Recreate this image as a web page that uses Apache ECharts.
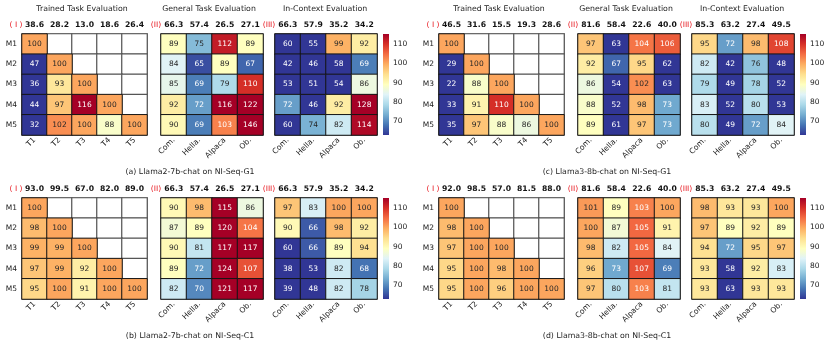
<!DOCTYPE html>
<html>
<head>
<meta charset="utf-8">
<script src="https://cdn.jsdelivr.net/npm/echarts@6/dist/echarts.min.js"></script>
<style>
  html, body { margin: 0; padding: 0; background: #fff; }
  #main { width: 830px; height: 348px; }
</style>
</head>
<body>
<div id="main"></div>
<script>
// axis categories
var models = ['M1', 'M2', 'M3', 'M4', 'M5'];
var trainedTasks = ['T1', 'T2', 'T3', 'T4', 'T5'];
var evalTasks = ['Com.', 'Hella.', 'Alpaca', 'Ob.'];
var cbTicks = [70, 80, 90, 100, 110];

// (a) Llama2-7b-chat on NI-Seq-G1
var aTrainedTop = ['38.6', '28.2', '13.0', '18.6', '26.4'];
var aTrained = [[100], [47, 100], [36, 93, 100], [44, 97, 116, 100], [32, 102, 100, 88, 100]];
var aGeneralTop = ['66.3', '57.4', '26.5', '27.1'];
var aGeneral = [[89, 75, 112, 89], [84, 65, 89, 67], [85, 69, 79, 110], [92, 72, 116, 122], [90, 69, 103, 146]];
var aContextTop = ['66.3', '57.9', '35.2', '34.2'];
var aContext = [[60, 55, 99, 92], [42, 46, 58, 69], [53, 51, 54, 86], [72, 46, 92, 128], [60, 74, 82, 114]];

// (b) Llama2-7b-chat on NI-Seq-C1
var bTrainedTop = ['93.0', '99.5', '67.0', '82.0', '89.0'];
var bTrained = [[100], [98, 100], [99, 99, 100], [97, 99, 92, 100], [95, 100, 91, 100, 100]];
var bGeneralTop = ['66.3', '57.4', '26.5', '27.1'];
var bGeneral = [[90, 98, 115, 86], [87, 89, 120, 104], [90, 81, 117, 117], [89, 72, 124, 107], [82, 70, 121, 117]];
var bContextTop = ['66.3', '57.9', '35.2', '34.2'];
var bContext = [[97, 83, 100, 100], [90, 66, 98, 92], [60, 66, 89, 94], [38, 53, 82, 68], [39, 48, 82, 78]];

// (c) Llama3-8b-chat on NI-Seq-G1
var cTrainedTop = ['46.5', '31.6', '15.5', '19.3', '28.6'];
var cTrained = [[100], [29, 100], [22, 88, 100], [33, 91, 110, 100], [35, 97, 88, 86, 100]];
var cGeneralTop = ['81.6', '58.4', '22.6', '40.0'];
var cGeneral = [[97, 63, 104, 106], [92, 67, 95, 62], [86, 54, 102, 63], [88, 52, 98, 73], [89, 61, 97, 73]];
var cContextTop = ['85.3', '63.2', '27.4', '49.5'];
var cContext = [[95, 72, 98, 108], [82, 42, 76, 48], [79, 49, 78, 52], [83, 52, 80, 53], [80, 49, 72, 84]];

// (d) Llama3-8b-chat on NI-Seq-C1
var dTrainedTop = ['92.0', '98.5', '57.0', '81.5', '88.0'];
var dTrained = [[100], [98, 100], [97, 100, 100], [95, 100, 98, 100], [95, 100, 96, 100, 100]];
var dGeneralTop = ['81.6', '58.4', '22.6', '40.0'];
var dGeneral = [[101, 89, 103, 100], [100, 87, 105, 91], [98, 82, 105, 84], [96, 73, 107, 69], [97, 80, 103, 81]];
var dContextTop = ['85.3', '63.2', '27.4', '49.5'];
var dContext = [[98, 93, 93, 100], [97, 89, 92, 89], [94, 72, 95, 97], [93, 58, 92, 83], [93, 63, 93, 93]];

var panels = [
    {ox: 0, oy: 0, caption: '(a) Llama2-7b-chat on NI-Seq-G1', titles: true,
     mats: [[aTrained, aTrainedTop], [aGeneral, aGeneralTop], [aContext, aContextTop]]},
    {ox: 417, oy: 0, caption: '(c) Llama3-8b-chat on NI-Seq-G1', titles: true,
     mats: [[cTrained, cTrainedTop], [cGeneral, cGeneralTop], [cContext, cContextTop]]},
    {ox: 0, oy: 164, caption: '(b) Llama2-7b-chat on NI-Seq-C1', titles: false,
     mats: [[bTrained, bTrainedTop], [bGeneral, bGeneralTop], [bContext, bContextTop]]},
    {ox: 417, oy: 164, caption: '(d) Llama3-8b-chat on NI-Seq-C1', titles: false,
     mats: [[dTrained, dTrainedTop], [dGeneral, dGeneralTop], [dContext, dContextTop]]}
];

// RdYlBu_r
var cmap = ['#313695', '#4575b4', '#74add1', '#abd9e9', '#e0f3f8', '#ffffbf',
            '#fee090', '#fdae61', '#f46d43', '#d73027', '#a50026'];
var vMin = 63, vMax = 115;
var FONT = 'DejaVu Sans';

function clamp(v) { return Math.max(vMin, Math.min(vMax, v)); }
function hexRgb(h) { return [1, 3, 5].map(function (i) { return parseInt(h.substr(i, 2), 16) / 255; }); }
function textColorFor(v) {
    var t = (clamp(v) - vMin) / (vMax - vMin) * (cmap.length - 1);
    var i = Math.min(Math.floor(t), cmap.length - 2), f = t - i;
    var c0 = hexRgb(cmap[i]), c1 = hexRgb(cmap[i + 1]);
    var rgb = c0.map(function (x, k) { return x + (c1[k] - x) * f; });
    var lin = rgb.map(function (x) { return x <= 0.03928 ? x / 12.92 : Math.pow((x + 0.055) / 1.055, 2.4); });
    var lum = 0.2126 * lin[0] + 0.7152 * lin[1] + 0.0722 * lin[2];
    return lum > 0.395 ? '#262626' : '#ffffff';
}

var grids = [], xAxes = [], yAxes = [], series = [], graphics = [], valueSeries = [];
var matLeft = [22, 161, 275], matWidth = [125, 102, 102];
var GTOP = 34, GH = 101;
var sectionTitles = ['Trained Task Evaluation', 'General Task Evaluation', 'In-Context Evaluation'];
var titleX = [82, 209, 325];
var romans = ['( I )', '(II)', '(III)'];
var romanX = [16, 156, 269];

function txt(x, y, s, font, color, align) {
    graphics.push({type: 'text', x: x, y: y, silent: true,
        style: {text: s, font: font, fill: color || '#222', align: align || 'center', verticalAlign: 'middle'}});
}

panels.forEach(function (p) {
    p.mats.forEach(function (m, mi) {
        var mat = m[0], tops = m[1];
        var cats = mi === 0 ? trainedTasks : evalTasks;
        var g = grids.length;
        grids.push({left: p.ox + matLeft[mi], top: p.oy + GTOP, width: matWidth[mi], height: GH,
            show: true, borderColor: '#6a6a6a', borderWidth: 1.5, backgroundColor: '#fff'});
        xAxes.push({type: 'category', gridIndex: g, data: cats, position: 'bottom',
            axisLine: {show: false}, splitLine: {show: false},
            axisTick: {alignWithLabel: true, length: 3, lineStyle: {color: '#333'}},
            axisLabel: {interval: 0, rotate: 45, fontSize: 7.6, color: '#222', margin: 4, fontFamily: FONT}});
        xAxes.push({type: 'category', gridIndex: g, data: tops, position: 'top',
            axisLine: {show: false}, splitLine: {show: false},
            axisTick: {alignWithLabel: true, length: 3, lineStyle: {color: '#333'}},
            axisLabel: {interval: 0, fontSize: 7.7, fontWeight: 'bold', color: '#111', margin: 5, fontFamily: FONT}});
        yAxes.push({type: 'category', gridIndex: g, data: models, inverse: true,
            axisLine: {show: false}, splitLine: {show: false},
            axisTick: {alignWithLabel: true, length: 3, lineStyle: {color: '#333'}},
            axisLabel: {show: mi === 0, interval: 0, fontSize: 7.5, color: '#222', margin: 5, fontFamily: FONT}});

        var vals = [], empty = [];
        mat.forEach(function (row, r) {
            cats.forEach(function (c, ci) {
                if (ci < row.length) {
                    vals.push({value: [ci, r, clamp(row[ci])], raw: row[ci],
                        label: {color: textColorFor(row[ci])}});
                } else {
                    empty.push([ci, r, 0]);
                }
            });
        });
        if (empty.length) {
            series.push({type: 'heatmap', xAxisIndex: 2 * g, yAxisIndex: g, data: empty,
                itemStyle: {color: '#fff', borderColor: '#555', borderWidth: 1.2},
                label: {show: false}, silent: true});
        }
        valueSeries.push(series.length);
        series.push({type: 'heatmap', xAxisIndex: 2 * g, yAxisIndex: g, data: vals,
            itemStyle: {borderColor: '#151515', borderWidth: 1},
            label: {show: true, fontSize: 7.5, fontFamily: FONT,
                formatter: function (q) { return q.data.raw; }},
            silent: true});

        if (p.titles) txt(p.ox + titleX[mi], p.oy + 9, sectionTitles[mi], '7.8px ' + FONT, '#222');
        txt(p.ox + romanX[mi], p.oy + 25, romans[mi], '7.6px ' + FONT, '#e8141c');
    });
    txt(p.ox + 190, p.oy + 172, p.caption, '7.8px ' + FONT, '#222');
});

// colour bars
var cbStops = cmap.map(function (c, i) { return {offset: 1 - i / (cmap.length - 1), color: c}; });
panels.forEach(function (p) {
    var g = grids.length;
    grids.push({left: p.ox + 383, top: p.oy + GTOP, width: 6, height: GH, show: false});
    xAxes.push({type: 'value', gridIndex: g, min: 0, max: 1, show: false});
    yAxes.push({type: 'value', gridIndex: g, min: vMin, max: vMax, position: 'right',
        axisLine: {show: false}, splitLine: {show: false},
        axisTick: {show: true, length: 3, customValues: cbTicks, lineStyle: {color: '#333'}},
        axisLabel: {customValues: cbTicks, fontSize: 7.5, color: '#222', margin: 4, fontFamily: FONT}});
    series.push({type: 'custom', xAxisIndex: xAxes.length - 1, yAxisIndex: g, silent: true,
        data: [[0, vMin, vMax]],
        renderItem: function (params, api) {
            var p0 = api.coord([0, api.value(2)]);
            var p1 = api.coord([1, api.value(1)]);
            return {type: 'rect', shape: {x: p0[0], y: p0[1], width: p1[0] - p0[0], height: p1[1] - p0[1]},
                style: {fill: new echarts.graphic.LinearGradient(0, 0, 0, 1, cbStops)}};
        }});
});

var chart = echarts.init(document.getElementById('main'), null, {renderer: 'canvas'});
chart.setOption({
    animation: false,
    backgroundColor: '#fff',
    textStyle: {fontFamily: FONT},
    grid: grids,
    xAxis: xAxes,
    yAxis: yAxes,
    visualMap: {type: 'continuous', show: false, min: vMin, max: vMax, dimension: 2,
        seriesIndex: valueSeries, inRange: {color: cmap}},
    graphic: graphics,
    series: series
});
</script>
</body>
</html>
